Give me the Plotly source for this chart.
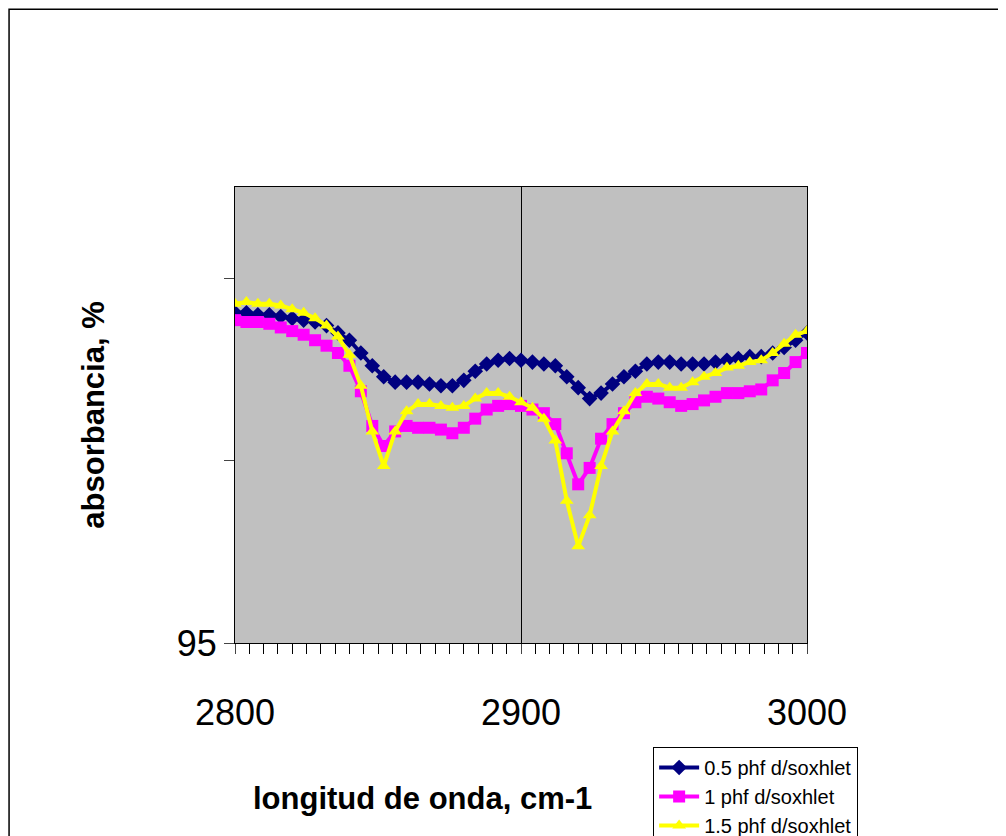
import plotly.graph_objects as go

x = list(range(2800, 3001, 4))
s05 = [96.81,96.81,96.80,96.80,96.79,96.78,96.77,96.76,96.74,96.70,
       96.66,96.59,96.52,96.46,96.43,96.43,96.43,96.42,96.41,96.41,
       96.44,96.49,96.53,96.55,96.56,96.55,96.54,96.53,96.52,96.46,
       96.40,96.34,96.37,96.42,96.46,96.49,96.53,96.54,96.54,96.53,
       96.53,96.53,96.54,96.55,96.56,96.57,96.57,96.59,96.62,96.66,96.70]
s1 = [96.77,96.76,96.76,96.75,96.73,96.71,96.69,96.66,96.63,96.59,
      96.52,96.38,96.19,96.08,96.16,96.19,96.18,96.18,96.17,96.15,
      96.18,96.23,96.28,96.30,96.31,96.30,96.28,96.26,96.20,96.04,
      95.87,95.96,96.12,96.20,96.26,96.32,96.35,96.34,96.32,96.30,
      96.31,96.33,96.35,96.37,96.37,96.38,96.39,96.44,96.48,96.54,96.59]
s15 = [96.86,96.87,96.86,96.86,96.85,96.83,96.81,96.78,96.74,96.68,
       96.58,96.41,96.16,95.97,96.16,96.27,96.31,96.31,96.30,96.29,
       96.30,96.34,96.37,96.37,96.35,96.32,96.29,96.23,96.11,95.78,
       95.53,95.70,95.97,96.16,96.27,96.37,96.42,96.42,96.40,96.40,
       96.43,96.46,96.48,96.51,96.52,96.54,96.55,96.59,96.64,96.69,96.71]
names = ["0.5 phf d/soxhlet", "1 phf d/soxhlet", "1.5 phf d/soxhlet"]
colors = ["#000080", "#FF00FF", "#FFFF00"]
symbols = ["diamond", "square", "triangle-up"]

fig = go.Figure()
for ys, n, c, s in zip([s05, s1, s15], names, colors, symbols):
    fig.add_trace(go.Scatter(x=x, y=ys, name=n, mode="lines+markers",
                             line=dict(color=c, width=4),
                             marker=dict(color=c, symbol=s, size=12)))

fig.update_layout(
    width=1006, height=836, paper_bgcolor="white", plot_bgcolor="#C0C0C0",
    margin=dict(l=227, r=207, t=179, b=201, autoexpand=False),
    font=dict(family="Arial, Liberation Sans", color="black"),
    xaxis=dict(range=[2800, 3000], tickvals=[2800, 2900, 3000], showgrid=True,
               gridcolor="black", gridwidth=1, ticks="outside", ticklen=10,
               tickfont=dict(size=36), showline=True, linecolor="black", mirror=True,
               ticklabelstandoff=28,
               minor=dict(dtick=5, ticks="outside", ticklen=10, tickcolor="black"),
               zeroline=False, automargin=False),
    yaxis=dict(range=[95, 97.5], tickvals=[95, 96, 97], ticktext=["95", "", ""],
               showgrid=False, ticks="outside", ticklen=10, tickfont=dict(size=36),
               showline=True, linecolor="black", mirror=True, zeroline=False,
               title=dict(text="<b>absorbancia, %</b>", font=dict(size=31), standoff=62),
               automargin=False),
    legend=dict(x=0.731, y=-0.228, xanchor="left", yanchor="top",
                bordercolor="black", borderwidth=1, font=dict(size=20),
                tracegroupgap=0, itemwidth=40, bgcolor="white"),
    annotations=[dict(text="<b>longitud de onda, cm-1</b>", xref="paper", yref="paper",
                      x=0.328, y=-0.34, xanchor="center", yanchor="middle",
                      showarrow=False, font=dict(size=31))],
    shapes=[dict(type="rect", xref="paper", yref="paper", x0=-0.395, x1=1.344,
                 y0=-0.44, y1=1.39, line=dict(color="black", width=1.5))],
)
fig.write_html("out.html")
